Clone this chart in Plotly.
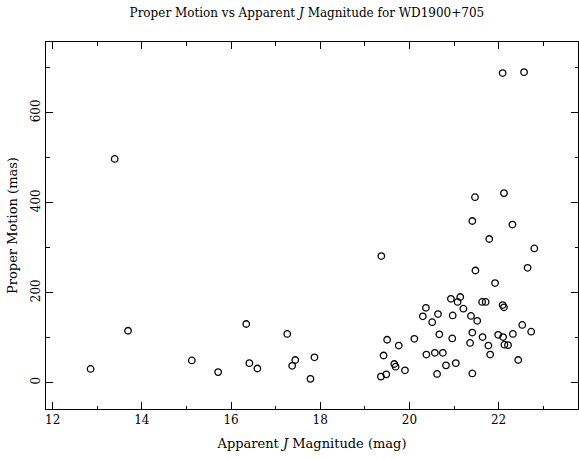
import plotly.graph_objects as go

j_mag = [13.39, 13.69, 12.85, 15.12, 15.71, 16.34, 16.41, 16.59, 17.26, 17.37,
         17.44, 17.78, 17.87, 19.37, 19.36, 19.42, 19.48, 19.50, 19.66, 19.69,
         19.76, 19.90, 20.11, 20.30, 20.37, 20.38, 20.51, 20.57, 20.62, 20.64,
         20.67, 20.75, 20.82, 20.93, 20.96, 20.97, 21.04, 21.08, 21.14, 21.21,
         21.36, 21.38, 21.41, 21.41, 21.48, 21.52, 21.63, 21.64, 21.71, 21.77,
         21.81, 21.79, 21.92, 21.99, 22.10, 22.09, 22.12, 22.13, 22.21, 22.32,
         22.44, 22.53, 22.65, 22.73, 22.80, 22.09, 22.57, 21.47, 22.12, 21.41,
         22.31]
pm = [497, 115, 30, 49, 23, 130, 43, 31, 108, 37,
      50, 8, 56, 281, 13, 60, 18, 95, 41, 35,
      82, 27, 97, 147, 166, 62, 134, 66, 19, 152,
      107, 66, 38, 186, 98, 149, 43, 179, 190, 164,
      88, 148, 111, 20, 249, 137, 179, 101, 179, 82,
      62, 319, 221, 106, 101, 172, 167, 84, 83, 108,
      50, 128, 255, 113, 298, 688, 690, 412, 421, 359,
      351]

font = "DejaVu Serif"

fig = go.Figure()
fig.add_trace(go.Scatter(
    x=j_mag, y=pm, mode="markers",
    marker=dict(symbol="circle-open", size=6.5, color="black", line=dict(width=1.3, color="black")),
    showlegend=False,
))

axis_common = dict(
    showline=True, linecolor="black", linewidth=1, mirror="ticks",
    ticks="inside", tickcolor="black", tickwidth=1, ticklen=7,
    showgrid=False, zeroline=False,
    tickfont=dict(family=font, size=12, color="black"),
)

fig.update_xaxes(
    range=[11.85, 23.78], dtick=2, tick0=0,
    minor=dict(dtick=1, ticks="inside", ticklen=3.5, tickcolor="black", showgrid=False),
    title=dict(text="Apparent <i>J</i> Magnitude (mag)", font=dict(family=font, size=13, color="black"), standoff=12),
    **axis_common,
)
fig.update_yaxes(
    range=[-59, 757], dtick=200, tick0=0, tickangle=-90,
    minor=dict(dtick=100, ticks="inside", ticklen=3.5, tickcolor="black", showgrid=False),
    title=dict(text="Proper Motion (mas)", font=dict(family=font, size=13, color="black"), standoff=8),
    **axis_common,
)

fig.update_layout(
    width=579, height=460,
    margin=dict(l=46, r=1, t=42, b=51),
    paper_bgcolor="white", plot_bgcolor="white",
    title=dict(text="Proper Motion vs Apparent <i>J</i> Magnitude for WD1900+705",
               font=dict(family=font, size=12, color="black"),
               x=0.53, xanchor="center", y=0.972, yanchor="middle"),
)

fig.write_html("out.html")
